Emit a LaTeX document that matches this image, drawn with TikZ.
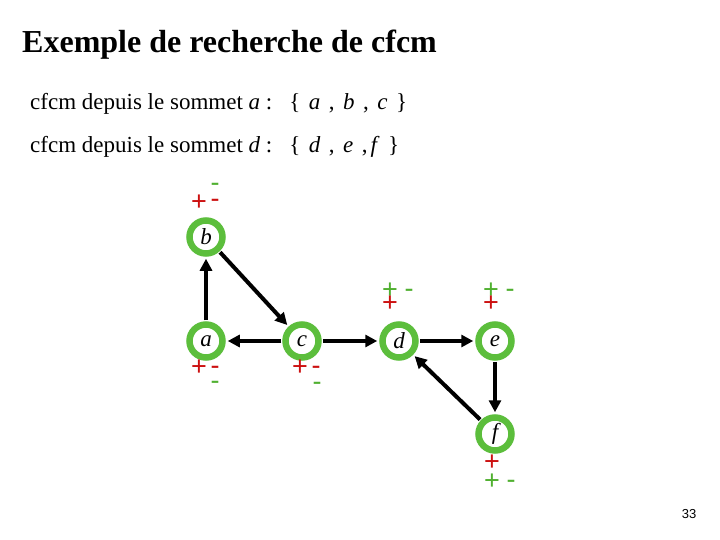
\documentclass[tikz,border=0pt]{standalone}
\usepackage{fontspec}
\setmainfont{Liberation Serif}
\newfontfamily\signfont{Liberation Sans}
\usetikzlibrary{arrows.meta}
\definecolor{ringgreen}{RGB}{92,190,60}
\definecolor{signred}{RGB}{204,16,16}
\definecolor{signgreen}{RGB}{80,176,48}
\newcommand{\gsp}{\hspace{8.5pt}}
\tikzset{
  vtx/.style={circle,draw=ringgreen,line width=6.5pt,minimum size=33pt,inner sep=0pt,fill=white,font=\fontsize{23}{23}\selectfont\itshape},
  edge/.style={line width=4pt,-{Triangle[length=12pt,width=12pt]},shorten >=2pt,shorten <=1pt},
  rs/.style={text=signred,font=\fontsize{27}{27}\selectfont\signfont,inner sep=0pt},
  gs/.style={text=signgreen,font=\fontsize{27}{27}\selectfont\signfont,inner sep=0pt}
}
\begin{document}
\begin{tikzpicture}[x=1pt,y=-1pt]
\useasboundingbox[fill=white] (0,0) rectangle (720,540);
\node[anchor=base west,font=\fontsize{32}{32}\selectfont\bfseries,inner sep=0pt] (title) at (22,53) {Exemple de recherche de cfcm};
\node[anchor=base west,font=\fontsize{23}{23}\selectfont,inner sep=0pt] (l1) at (30,110) {cfcm depuis le sommet \textit{a} :\hspace{17pt}\{\gsp\textit{a}\gsp,\gsp\textit{b}\gsp,\gsp\textit{c}\gsp\}};
\node[anchor=base west,font=\fontsize{23}{23}\selectfont,inner sep=0pt] (l2) at (30,153) {cfcm depuis le sommet \textit{d} :\hspace{17pt}\{\gsp\textit{d}\gsp,\gsp\textit{e}\gsp,\hspace{3pt}\textit{f}\gsp\}};

\node[vtx] (b) at (206,237) {b};
\node[vtx] (a) at (206,341) {a};
\node[vtx] (c) at (302,341) {c};
\node[vtx] (d) at (399,341) {d};
\node[vtx] (e) at (495,341) {e};
\node[vtx] (f) at (495,434) {f};

\draw[edge] (a) -- (b);
\draw[edge] (b) -- (c);
\draw[edge] (c) -- (a);
\draw[edge] (c) -- (d);
\draw[edge] (d) -- (e);
\draw[edge] (e) -- (f);
\draw[edge] (f) -- (d);

% b
\node[rs] (bp) at (199,203) {+};
\node[rs] (bm) at (215,203) {-};
\node[gs] (bg) at (215,187) {-};
% a
\node[rs] (ap) at (199,368) {+};
\node[rs] (am) at (215,370) {-};
\node[gs] (ag) at (215,385) {-};
% c
\node[rs] (cp) at (300,368) {+};
\node[rs] (cm) at (316,370) {-};
\node[gs] (cg) at (317,386) {-};
% d
\node[gs] (dg) at (390,291) {+};
\node[gs] (dm) at (409,293) {-};
\node[rs] (dp) at (390,304) {+};
% e
\node[gs] (eg) at (491,291) {+};
\node[gs] (em) at (510,293) {-};
\node[rs] (ep) at (491,304) {+};
% f
\node[rs] (fp) at (492,463) {+};
\node[gs] (fg) at (492,482) {+};
\node[gs] (fm) at (511,484) {-};

\node[anchor=center,font=\fontsize{13}{13}\selectfont\signfont,inner sep=0pt] (pg) at (689,514) {33};
\end{tikzpicture}
\end{document}
